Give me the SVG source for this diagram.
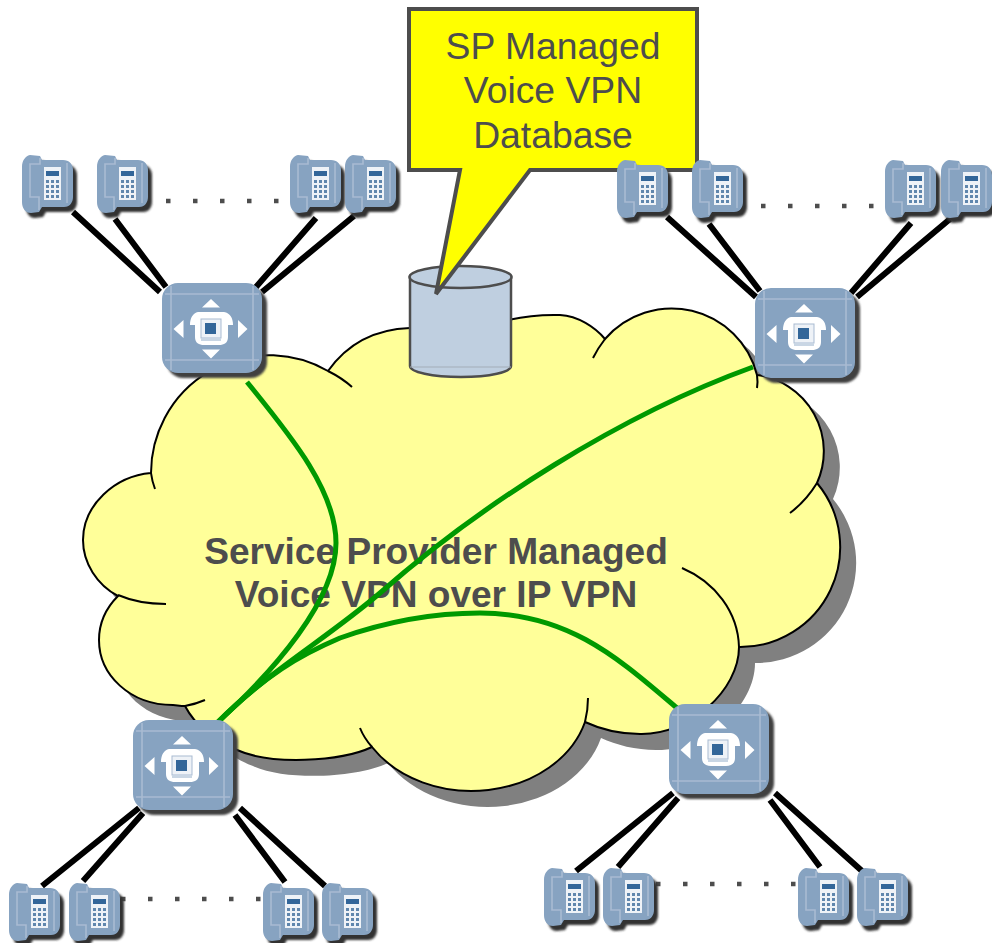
<svg xmlns="http://www.w3.org/2000/svg" width="992" height="943" viewBox="0 0 992 943">
<style>
.wire{stroke:#000;stroke-width:6;fill:none}
.dot{stroke:#4d4d4d;stroke-width:4.5;stroke-dasharray:4.5 22.5;fill:none}
.vpn{stroke:#009900;stroke-width:5;fill:none}
.edge{fill:none;stroke:#000;stroke-width:2}
.call{font:37.3px "Liberation Sans",Arial,sans-serif;fill:#4d4d4d;text-anchor:middle}
.cloudt{font:bold 37.1px "Liberation Sans",Arial,sans-serif;fill:#4d4d4d;text-anchor:middle}
.body{fill:#87a3c1}
.lite{stroke:#a9bbd2;stroke-width:1.6;fill:none}
.wh{fill:#fff}
</style>
<defs>
<filter id="soft" x="-20%" y="-20%" width="140%" height="140%"><feGaussianBlur stdDeviation="0.8"/></filter>
<path id="cloudShape" d="M151,473 A118,118 0 0 1 328,371 C350,340 380,329 410,328 C430,327 450,328 470,335 C490,322 525,314 560,315 C578,316 595,327 605,339 A88,88 0 0 1 757,375 A77,77 0 0 1 817,483 A100,100 0 0 1 739,647 C739,690 690,735 640,734 C620,734 600,729 585,722 A118,95 0 0 1 372,747 C340,762 270,765 237,750 C215,742 195,725 185,706 C180,706 176,705 173,705 C130,705 99,675 99,640 C99,622 107,607 118,596 C97,585 83,563 83,540 C83,505 115,476 151,473 Z"/>
<g id="phoneG">
<path transform="translate(4,5)" fill="#333" filter="url(#soft)" d="M8,0 C3,1 0,6 0,12 V47 C0,53 3,58 9,58 L17,57 L20,52 H42 C48,52 51,47 51,42 V15 C51,9 47,5 41,5 H20 L18,1 Z"/>
<path class="body" d="M8,0 C3,1 0,6 0,12 V47 C0,53 3,58 9,58 L17,57 L20,52 H42 C48,52 51,47 51,42 V15 C51,9 47,5 41,5 H20 L18,1 Z"/>
<path class="lite" stroke-width="1" d="M18,3 V9 H8 V42 H17 V55 M45,8 V48"/>
<rect x="22" y="12" width="17" height="33" fill="#eef2f7"/>
<rect x="24" y="16" width="13" height="5" fill="#336699"/>
<g fill="#5f86ad">
<rect x="24" y="25" width="3" height="3"/><rect x="29" y="25" width="3" height="3"/><rect x="34" y="25" width="3" height="3"/>
<rect x="24" y="30" width="3" height="3"/><rect x="29" y="30" width="3" height="3"/><rect x="34" y="30" width="3" height="3"/>
<rect x="24" y="35" width="3" height="3"/><rect x="29" y="35" width="3" height="3"/><rect x="34" y="35" width="3" height="3"/>
<rect x="24" y="40" width="3" height="3"/><rect x="29" y="40" width="3" height="3"/><rect x="34" y="40" width="3" height="3"/>
</g>
</g>
<g id="switchG">
<rect x="5" y="5" width="100" height="90" rx="16" fill="#3f3f3f" filter="url(#soft)"/>
<rect width="100" height="90" rx="16" class="body"/>
<path class="lite" d="M3,11 H97 M3,77 H97 M9,3 V87 M91,3 V87"/>
<path class="wh" d="M49,16 L58,24.5 H40 Z M49,75.5 L40,66.5 H58 Z M11.500,46 L21.500,37 V55 Z M85.500,46 L76,37 V55 Z"/>
<path class="wh" d="M36,29 H62 C68,30 71,35 71,42 H66 V54 C66,60 62,62 57,62 H42 C37,62 33,60 33,54 V42 H28 C28,35 31,30 36,29 Z"/>
<rect x="39" y="36" width="20" height="19" fill="#eef2f7" stroke="#a9bbd2"/>
<rect x="39" y="55" width="20" height="3" fill="#c9d6e4"/>
<rect x="43" y="40" width="11" height="11" fill="#336699"/>
</g>
</defs>

<g id="cloud">
<use href="#cloudShape" transform="translate(16,16)" fill="#808080"/>
<use href="#cloudShape" fill="#ffff99" stroke="#000" stroke-width="2"/>
<path class="edge" d="M328,371 Q342,378 352,387"/>
<path class="edge" d="M151,473 Q152,481 155,489"/>
<path class="edge" d="M118,595 C132,601 150,604 166,604"/>
<path class="edge" d="M185,706 Q196,704 205,700"/>
<path class="edge" d="M372,747 Q364,738 360,728"/>
<path class="edge" d="M585,722 Q588,710 588,698"/>
<path class="edge" d="M739,647 C738,612 715,582 682,568"/>
<path class="edge" d="M817,483 Q806,501 790,513"/>
<path class="edge" d="M757,375 Q758,382 757,388"/>
<path class="edge" d="M605,339 Q598,348 593,358"/>
</g>
<text class="cloudt" x="436" y="564">Service Provider Managed</text>
<text class="cloudt" x="436" y="607">Voice VPN over IP VPN</text>

<g id="connectors">
<path class="vpn" d="M247,382 C290,435 336,490 336,543 C336,600 275,670 217,723"/>
<path class="vpn" d="M753,367 C620,415 480,505 380,593 C325,640 270,670 217,723"/>
<path class="vpn" d="M217,723 C265,675 300,655 340,638 C385,622 435,613 480,613 C570,613 620,660 677,708"/>
<path class="wire" d="M73,212 L160,292 M115,219 L166,287 M316,218 L256,287 M354,216 L262,292"/>
<path class="wire" d="M667,217 L756,297 M709,224 L760,291 M911,223 L851,293 M950,219 L857,297"/>
<path class="wire" d="M139,808 L42,886 M143,813 L83,881 M235,815 L285,882 M240,808 L325,886"/>
<path class="wire" d="M673,793 L576,871 M678,798 L618,867 M770,800 L820,867 M775,793 L862,871"/>
<path class="dot" d="M166,201 H280"/>
<path class="dot" d="M761,206 H875"/>
<path class="dot" d="M121,899 H262"/>
<path class="dot" d="M656,884 H797"/>
</g>

<g id="database">
<path d="M410,277 V366 C410,372 432,377 461,377 C490,377 511,372 511,366 V277 Z" fill="#bfcfe0" stroke="#4d4d4d" stroke-width="2.5"/>
<path d="M410,367 H511" stroke="#a3adb8" stroke-width="1.2" fill="none"/>
<ellipse cx="460.500" cy="277" rx="51" ry="11" fill="#bfcfe0" stroke="#4d4d4d" stroke-width="2.5"/>
</g>

<g id="callout">
<path d="M409,9 H697 V170 H530 L436,294 L460,170 H409 Z" fill="#ffff00" stroke="#4d4d4d" stroke-width="4"/>
<text class="call" x="553" y="59">SP Managed</text>
<text class="call" x="553" y="103">Voice VPN</text>
<text class="call" x="553" y="148">Database</text>
</g>

<g id="switch-a"><use href="#switchG" x="162" y="283"/></g>
<g id="switch-b"><use href="#switchG" x="755" y="288"/></g>
<g id="switch-c"><use href="#switchG" x="133" y="720"/></g>
<g id="switch-d"><use href="#switchG" x="669" y="704"/></g>

<g id="phone-a1"><use href="#phoneG" x="22" y="155"/></g>
<g id="phone-a2"><use href="#phoneG" x="97" y="155"/></g>
<g id="phone-a3"><use href="#phoneG" x="290" y="155"/></g>
<g id="phone-a4"><use href="#phoneG" x="345" y="155"/></g>
<g id="phone-b1"><use href="#phoneG" x="617" y="160"/></g>
<g id="phone-b2"><use href="#phoneG" x="692" y="160"/></g>
<g id="phone-b3"><use href="#phoneG" x="885" y="160"/></g>
<g id="phone-b4"><use href="#phoneG" x="941" y="160"/></g>
<g id="phone-c1"><use href="#phoneG" x="9" y="883"/></g>
<g id="phone-c2"><use href="#phoneG" x="69" y="883"/></g>
<g id="phone-c3"><use href="#phoneG" x="263" y="883"/></g>
<g id="phone-c4"><use href="#phoneG" x="322" y="883"/></g>
<g id="phone-d1"><use href="#phoneG" x="544" y="868"/></g>
<g id="phone-d2"><use href="#phoneG" x="603" y="868"/></g>
<g id="phone-d3"><use href="#phoneG" x="798" y="868"/></g>
<g id="phone-d4"><use href="#phoneG" x="857" y="868"/></g>
</svg>
